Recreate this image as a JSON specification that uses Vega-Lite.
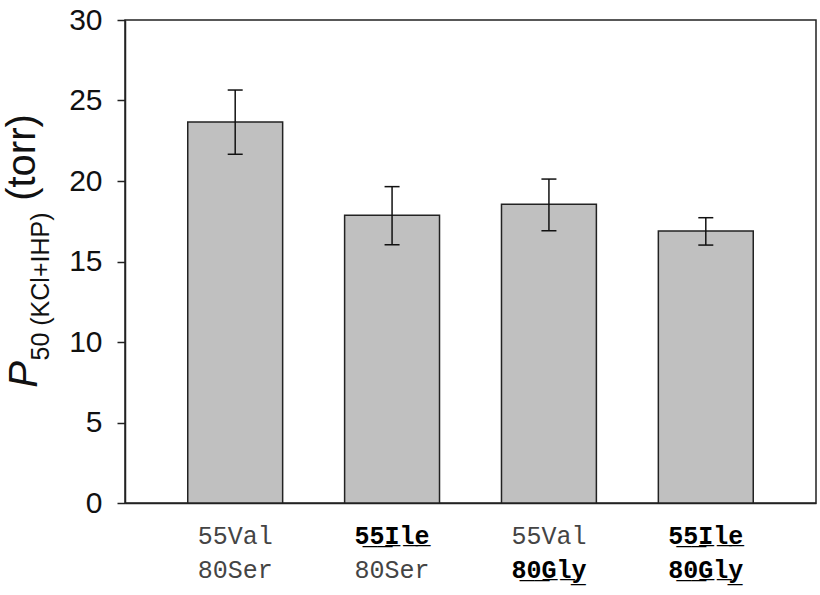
{
  "$schema": "https://vega.github.io/schema/vega-lite/v6.json",
  "width": 691,
  "height": 483,
  "autosize": "none",
  "padding": {"left": 125, "top": 20, "right": 4, "bottom": 92},
  "config": {
    "view": {"stroke": "#222", "strokeWidth": 1.5},
    "font": "Liberation Sans"
  },
  "data": {
    "values": [
      {"cat": "55Val|80Ser", "p50": 23.66, "lo": 21.66, "hi": 25.65},
      {"cat": "55Ile|80Ser", "p50": 17.87, "lo": 16.04, "hi": 19.65},
      {"cat": "55Val|80Gly", "p50": 18.55, "lo": 16.91, "hi": 20.12},
      {"cat": "55Ile|80Gly", "p50": 16.89, "lo": 16.02, "hi": 17.72}
    ]
  },
  "layer": [
    {
      "mark": {"type": "bar", "fill": "#c0c0c0", "stroke": "#222", "strokeWidth": 1.5},
      "encoding": {
        "x": {
          "field": "cat", "type": "nominal", "sort": null,
          "scale": {"paddingInner": 0.395, "paddingOuter": 0.4},
          "axis": {
            "orient": "bottom", "title": null, "labelAngle": 0, "ticks": false,
            "domainColor": "#222", "domainWidth": 1.5,
            "labelFont": "Liberation Mono", "labelFontSize": 25,
            "labelBaseline": "middle", "labelPadding": 32,
            "labelExpr": "split(datum.value,'|')[0] == '55Ile' ? '5\u03325\u0332I\u0332l\u0332e\u0332' : split(datum.value,'|')[0]",
            "labelFontWeight": {"condition": {"test": "indexof(datum.value,'55Ile') == 0", "value": "bold"}, "value": "normal"},
            "labelColor": {"condition": {"test": "indexof(datum.value,'55Ile') == 0", "value": "#000"}, "value": "#444"}
          }
        },
        "y": {
          "field": "p50", "type": "quantitative",
          "scale": {"domain": [0, 30], "nice": false},
          "axis": {
            "orient": "left", "values": [0, 5, 10, 15, 20, 25, 30], "grid": false,
            "tickSize": 8, "tickColor": "#222", "tickWidth": 1.5,
            "domainColor": "#222", "domainWidth": 1.5,
            "labelFontSize": 30, "labelColor": "#111", "labelPadding": 15,
            "title": "(torr)", "titleFontSize": 40, "titleFontWeight": "normal", "titleColor": "#111",
            "titleAngle": -90, "titleAlign": "center", "titleBaseline": "alphabetic",
            "titleX": -91, "titleY": 137
          }
        }
      }
    },
    {
      "mark": {"type": "rule", "color": "#111", "strokeWidth": 1.5},
      "encoding": {
        "x": {
          "field": "cat", "type": "nominal", "sort": null,
          "axis": {
            "orient": "bottom", "title": null, "labelAngle": 0, "ticks": false, "domain": false,
            "labelFont": "Liberation Mono", "labelFontSize": 25,
            "labelBaseline": "middle", "labelPadding": 66,
            "labelExpr": "split(datum.value,'|')[1] == '80Gly' ? '8\u03320\u0332G\u0332l\u0332y\u0332' : split(datum.value,'|')[1]",
            "labelFontWeight": {"condition": {"test": "indexof(datum.value,'80Gly') >= 0", "value": "bold"}, "value": "normal"},
            "labelColor": {"condition": {"test": "indexof(datum.value,'80Gly') >= 0", "value": "#000"}, "value": "#444"}
          }
        },
        "y": {
          "field": "lo", "type": "quantitative",
          "axis": {
            "orient": "left", "grid": false, "ticks": false, "labels": false, "domain": false,
            "title": "P", "titleFontSize": 40, "titleFontWeight": "normal", "titleFontStyle": "italic", "titleColor": "#111",
            "titleAngle": -90, "titleAlign": "center", "titleBaseline": "alphabetic",
            "titleX": -89, "titleY": 354
          }
        },
        "y2": {"field": "hi"}
      }
    },
    {
      "mark": {"type": "tick", "size": 15, "thickness": 1.5, "color": "#111", "opacity": 1},
      "encoding": {
        "x": {"field": "cat", "type": "nominal", "sort": null, "axis": null},
        "y": {
          "field": "hi", "type": "quantitative",
          "axis": {
            "orient": "left", "grid": false, "ticks": false, "labels": false, "domain": false,
            "title": "50 (KCl+IHP)", "titleFontSize": 25, "titleFontWeight": "normal", "titleColor": "#111",
            "titleAngle": -90, "titleAlign": "center", "titleBaseline": "alphabetic",
            "titleX": -77, "titleY": 266
          }
        }
      }
    },
    {
      "mark": {"type": "tick", "size": 15, "thickness": 1.5, "color": "#111", "opacity": 1},
      "encoding": {
        "x": {"field": "cat", "type": "nominal", "sort": null, "axis": null},
        "y": {"field": "lo", "type": "quantitative", "axis": null}
      }
    }
  ],
  "resolve": {"axis": {"x": "independent", "y": "independent"}}
}
